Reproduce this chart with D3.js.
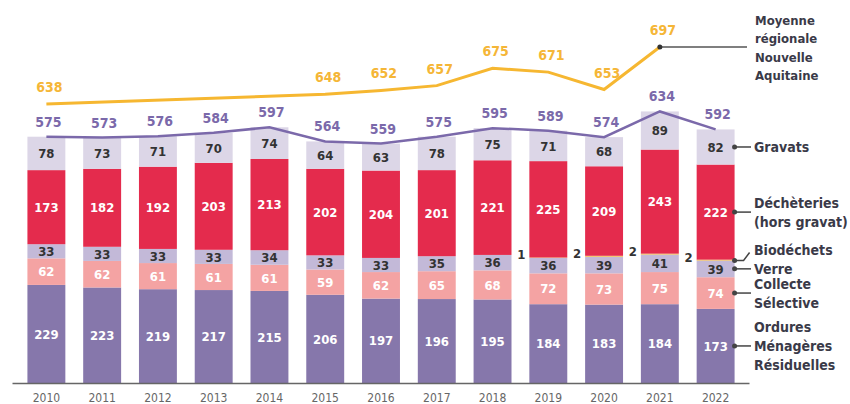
<!DOCTYPE html>
<html>
<head>
<meta charset="utf-8">
<script src="https://cdn.jsdelivr.net/npm/d3@7"></script>
<style>
  body { margin: 0; background: #fff; }
  text { font-family: "DejaVu Sans Condensed", "DejaVu Sans", sans-serif; font-weight: bold; }
</style>
</head>
<body>
<svg id="dechets_chart"></svg>
<script>
// tonnages par habitant (kg/hab/an)
var years = [2010, 2011, 2012, 2013, 2014, 2015, 2016, 2017, 2018, 2019, 2020, 2021, 2022];
var omr = [229, 223, 219, 217, 215, 206, 197, 196, 195, 184, 183, 184, 173];
var collecte = [62, 62, 61, 61, 61, 59, 62, 65, 68, 72, 73, 75, 74];
var verre = [33, 33, 33, 33, 34, 33, 33, 35, 36, 36, 39, 41, 39];
var biodechets = [0, 0, 0, 0, 0, 0, 0, 0, 0, 1, 2, 2, 2];
var decheteries = [173, 182, 192, 203, 213, 202, 204, 201, 221, 225, 209, 243, 222];
var gravats = [78, 73, 71, 70, 74, 64, 63, 78, 75, 71, 68, 89, 82];
var moyenneRegionale = [638, null, null, null, null, 648, 652, 657, 675, 671, 653, 697, null];

var keys = ['omr', 'collecte', 'verre', 'bio', 'decheteries', 'gravats'];
var colors = {omr: '#8677ab', collecte: '#f4a3a3', verre: '#c3b9d8', bio: '#f6b731', decheteries: '#e42b4d', gravats: '#dcd6e7'};
var labelColors = {omr: '#fff', collecte: '#fff', verre: '#333', decheteries: '#fff', gravats: '#333'};

var legendItems = [
  {key: 'gravats', lines: ['Gravats']},
  {key: 'decheteries', lines: ['Déchèteries', '(hors gravat)']},
  {key: 'bio', lines: ['Biodéchets']},
  {key: 'verre', lines: ['Verre']},
  {key: 'collecte', lines: ['Collecte', 'Sélective']},
  {key: 'omr', lines: ['Ordures', 'Ménagères', 'Résiduelles']}
];
var moyenneLines = ['Moyenne', 'régionale', 'Nouvelle', 'Aquitaine'];

var WIDTH = 850, HEIGHT = 404;
var baseY = 383;

var svg = d3.select('#dechets_chart')
  .attr('width', WIDTH)
  .attr('height', HEIGHT);

var rows = years.map(function (yr, i) {
  return {year: yr, omr: omr[i], collecte: collecte[i], verre: verre[i], bio: biodechets[i],
          decheteries: decheteries[i], gravats: gravats[i]};
});
rows.forEach(function (d) { d.total = d3.sum(keys, k => d[k]); });

var xScale = d3.scaleBand().domain(years).range([18.5, 743.5]).paddingInner(0.32).paddingOuter(0.16);
var yScale = d3.scaleLinear().domain([0, 600]).range([baseY, 126]);
var yMoy = d3.scaleLinear().domain([638, 697]).range([104, 47]);
var cx = d => xScale(d) + xScale.bandwidth() / 2;

var series = d3.stack().keys(keys)(rows);

// barres empilées
var layers = svg.append('g').selectAll('g')
  .data(series)
  .join('g')
  .attr('fill', d => colors[d.key]);

layers.selectAll('rect')
  .data(d => d)
  .join('rect')
  .attr('x', d => xScale(d.data.year))
  .attr('width', xScale.bandwidth())
  .attr('y', d => yScale(d[1]))
  .attr('height', d => yScale(d[0]) - yScale(d[1]));

// valeurs dans les segments
series.filter(s => s.key !== 'bio').forEach(function (s) {
  svg.append('g').selectAll('text')
    .data(s)
    .join('text')
    .attr('x', d => cx(d.data.year))
    .attr('y', d => (yScale(d[0]) + yScale(d[1])) / 2)
    .attr('dy', '0.36em')
    .attr('text-anchor', 'middle')
    .style('font-size', '13px')
    .attr('fill', labelColors[s.key])
    .text(d => d.data[s.key]);
});

// valeurs biodéchets, à gauche de la barre
var bioSeries = series.find(s => s.key === 'bio');
svg.append('g').selectAll('text')
  .data(bioSeries.filter(d => d.data.bio > 0))
  .join('text')
  .attr('x', d => xScale(d.data.year) - 4)
  .attr('y', d => yScale(d[0]))
  .attr('dy', '0.1em')
  .attr('text-anchor', 'end')
  .style('font-size', '13px')
  .attr('fill', '#333')
  .text(d => d.data.bio);

// ligne des totaux
var totalLine = d3.line()
  .x(d => cx(d.year))
  .y(d => yScale(d.total));

svg.append('path')
  .datum(rows)
  .attr('fill', 'none')
  .attr('stroke', '#7b69aa')
  .attr('stroke-width', 2.5)
  .attr('d', totalLine);

svg.append('g').selectAll('text')
  .data(rows)
  .join('text')
  .attr('x', d => cx(d.year) + 2)
  .attr('y', d => yScale(d.total) - 10)
  .attr('text-anchor', 'middle')
  .style('font-size', '14px')
  .attr('fill', '#7b69aa')
  .text(d => d.total);

// moyenne régionale
var moyData = years.map((yr, i) => ({year: yr, value: moyenneRegionale[i]})).filter(d => d.value != null);

var moyLine = d3.line()
  .x(d => cx(d.year))
  .y(d => yMoy(d.value));

svg.append('path')
  .datum(moyData)
  .attr('fill', 'none')
  .attr('stroke', '#f6b731')
  .attr('stroke-width', 3)
  .attr('d', moyLine);

svg.append('g').selectAll('text')
  .data(moyData)
  .join('text')
  .attr('x', d => cx(d.year) + 3)
  .attr('y', d => yMoy(d.value) - 12)
  .attr('text-anchor', 'middle')
  .style('font-size', '14px')
  .attr('fill', '#f5b637')
  .text(d => d.value);

// axe des années
var xAxis = svg.append('g')
  .attr('transform', 'translate(0,' + baseY + ')')
  .call(d3.axisBottom(xScale).tickSize(0).tickPadding(10.5));
xAxis.select('.domain').remove();
xAxis.selectAll('text')
  .style('font-size', '12px')
  .style('font-weight', 'normal')
  .attr('fill', '#666');

svg.append('line')
  .attr('x1', xScale.range()[0] - 6)
  .attr('x2', xScale.range()[1] + 6)
  .attr('y1', baseY + 0.5)
  .attr('y2', baseY + 0.5)
  .attr('stroke', '#666')
  .attr('stroke-width', 1.5);

// légende à droite, reliée aux segments de la dernière barre
var last = rows[rows.length - 1];
var lastX = xScale(last.year) + xScale.bandwidth();
var textX = 754;
var lineH = 19;

legendItems.forEach(function (item) {
  var s = series.find(t => t.key === item.key);
  var seg = s[s.length - 1];
  var yMid = (yScale(seg[0]) + yScale(seg[1])) / 2;
  var textY = yMid;
  if (item.key === 'bio') {
    yMid = yScale(seg[0]);
    textY = yMid - 11;
    svg.append('polyline')
      .attr('points', [[lastX, yMid], [lastX + 9, yMid], [lastX + 15, textY + 3]].join(' '))
      .attr('fill', 'none')
      .attr('stroke', '#444')
      .attr('stroke-width', 1.5);
  } else {
    svg.append('line')
      .attr('x1', lastX).attr('x2', textX - 3)
      .attr('y1', yMid).attr('y2', yMid)
      .attr('stroke', '#444')
      .attr('stroke-width', 1.5);
  }
  svg.append('circle')
    .attr('cx', lastX)
    .attr('cy', yMid)
    .attr('r', 2.5)
    .attr('fill', '#444');

  var startY = textY - (item.lines.length - 1) * lineH / 2;
  var t = svg.append('text')
    .attr('x', textX)
    .style('font-size', '14px')
    .attr('fill', '#3a3a48');
  item.lines.forEach(function (l, i) {
    t.append('tspan')
      .attr('x', textX)
      .attr('y', startY + i * lineH)
      .attr('dy', '0.36em')
      .text(l);
  });
});

// légende moyenne régionale
var lastMoy = moyData[moyData.length - 1];
var mx = cx(lastMoy.year), my = yMoy(lastMoy.value);
svg.append('line')
  .attr('x1', mx).attr('x2', 747)
  .attr('y1', my).attr('y2', my)
  .attr('stroke', '#555')
  .attr('stroke-width', 1.5);
svg.append('circle')
  .attr('cx', mx).attr('cy', my).attr('r', 2.5).attr('fill', '#333');

var mt = svg.append('text')
  .attr('x', textX + 1)
  .style('font-size', '13px')
  .attr('fill', '#3a3a48');
moyenneLines.forEach(function (l, i) {
  mt.append('tspan')
    .attr('x', textX + 1)
    .attr('y', 20 + i * 18.5)
    .attr('dy', '0.36em')
    .text(l);
});
</script>
</body>
</html>
